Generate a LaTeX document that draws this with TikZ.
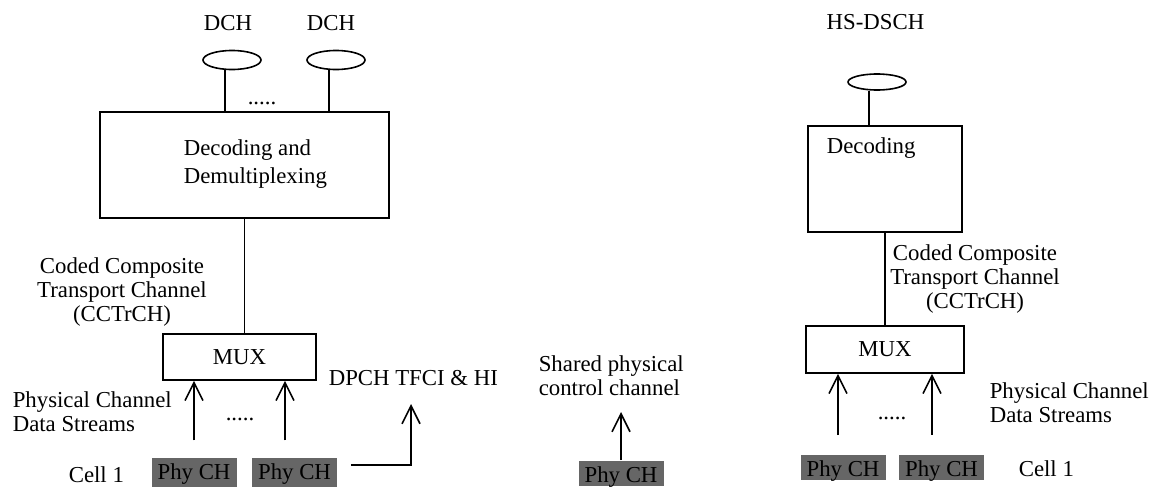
\documentclass[tikz,border=0pt]{standalone}
\usepackage{fontspec}
\setmainfont{Liberation Serif}
\usetikzlibrary{arrows.meta,shapes.geometric}
\definecolor{phygray}{RGB}{102,102,102}
\tikzset{
  lbl/.style={inner sep=0pt, font=\fontsize{11.4}{12}\selectfont},
  blk/.style={draw, line width=0.8pt, inner sep=0pt, font=\fontsize{11.4}{12}\selectfont},
  chan/.style={draw, ellipse, line width=0.8pt, inner sep=0pt, minimum width=29pt},
  phych/.style={fill=phygray, inner sep=0pt, minimum width=42.5pt, text height=10.75pt, text depth=1.75pt, font=\fontsize{11.4}{12}\selectfont},
}
\begin{document}
\begin{tikzpicture}[x=0.5pt, y=-0.5pt, line width=0.8pt, >={Straight Barb[length=9pt,width=9pt]}]
            \useasboundingbox (0,0) rectangle (1150,487);

            % DCH side: transport channels
            \node[lbl, anchor=base] (dchlbl1) at (228,30) {DCH};
            \node[lbl, anchor=base] (dchlbl2) at (331,30) {DCH};
            \node[chan, minimum height=9.5pt] (dch1) at (232,60) {};
            \node[chan, minimum height=9.5pt] (dch2) at (336,60) {};
            \node[lbl, anchor=base] (dots1) at (262,104) {.....};

            % Decoding and demultiplexing
            \node[blk, minimum width=144.5pt, minimum height=53pt] (demux) at (244.5,165) {};
            \node[lbl, anchor=north west, align=left] (demuxtxt) at (183,138.4) {Decoding and\\[2pt]Demultiplexing};
            \draw ([xshift=-3.5pt]dch1.south) -- ([xshift=-3.5pt]dch1.south |- demux.north);
            \draw ([xshift=-3.5pt]dch2.south) -- ([xshift=-3.5pt]dch2.south |- demux.north);

            % CCTrCH
            \node[lbl, anchor=north, align=center] (cctrch1) at (122,256.4) {Coded Composite\\Transport Channel\\(CCTrCH)};
            \node[blk, minimum width=76.5pt, minimum height=23pt] (mux1) at (239.5,357) {MUX};
            \draw (demux.south) -- (demux.south |- mux1.north);

            % Physical channels, cell 1
            \node[lbl, anchor=north west, align=left] (pcds1) at (12,390.4) {Physical Channel\\Data Streams};
            \node[lbl, anchor=base west] (cell1) at (68,482) {Cell 1};
            \node[phych, text depth=3.5pt] (phy1) at (194,472.5) {Phy CH};
            \node[phych, text depth=3.5pt] (phy2) at (294.5,472.5) {Phy CH};
            \node[lbl, anchor=base] (dots2) at (240,420) {.....};
            \draw[->] ([yshift=8.5pt]phy1.north) -- (phy1.north |- mux1.south);
            \draw[->] ([xshift=-4.75pt,yshift=8.5pt]phy2.north) -- ([xshift=-4.75pt]phy2.north |- mux1.south);

            % DPCH TFCI & HI
            \node[lbl, anchor=base west] (tfci) at (328,385) {DPCH TFCI \& HI};
            \coordinate (tfcitip) at (411,404);
            \draw[->] ([xshift=6.5pt,yshift=3.75pt]phy2.east) -| (tfcitip);

            % Shared physical control channel
            \node[lbl, anchor=north west, align=left] (shared) at (538,354.4) {Shared physical\\control channel};
            \node[phych] (phy3) at (621,473.5) {Phy CH};
            \coordinate (sharedtip) at (620,412);
            \draw[->] (phy3.north) -- (phy3.north |- sharedtip);

            % HS-DSCH side
            \node[lbl, anchor=base] (hslbl) at (875.5,29) {HS-DSCH};
            \node[chan, minimum height=8pt] (hsdsch) at (877,82) {};
            \node[blk, minimum width=77pt, minimum height=53pt] (dec) at (885,179) {};
            \node[lbl, anchor=base west] (dectxt) at (826,153) {Decoding};
            \draw ([xshift=-4pt]hsdsch.south) -- ([xshift=-4pt]hsdsch.south |- dec.north);

            \node[lbl, anchor=north, align=center] (cctrch2) at (975,243.4) {Coded Composite\\Transport Channel\\(CCTrCH)};
            \node[blk, minimum width=79pt, minimum height=23.5pt] (mux2) at (885,349.5) {MUX};
            \draw (dec.south) -- (dec.south |- mux2.north);

            \node[lbl, anchor=north west, align=left] (pcds2) at (989,381.4) {Physical Channel\\Data Streams};
            \node[lbl, anchor=base west] (cell2) at (1018,476) {Cell 1};
            \node[phych] (phy4) at (843,467.5) {Phy CH};
            \node[phych] (phy5) at (941.5,467) {Phy CH};
            \node[lbl, anchor=base] (dots3) at (892,419) {.....};
            \draw[->] ([xshift=-2.5pt,yshift=9.5pt]phy4.north) -- ([xshift=-2.5pt]phy4.north |- mux2.south);
            \draw[->] ([xshift=-4.75pt,yshift=9.5pt]phy5.north) -- ([xshift=-4.75pt]phy5.north |- mux2.south);
        \end{tikzpicture}
\end{document}
